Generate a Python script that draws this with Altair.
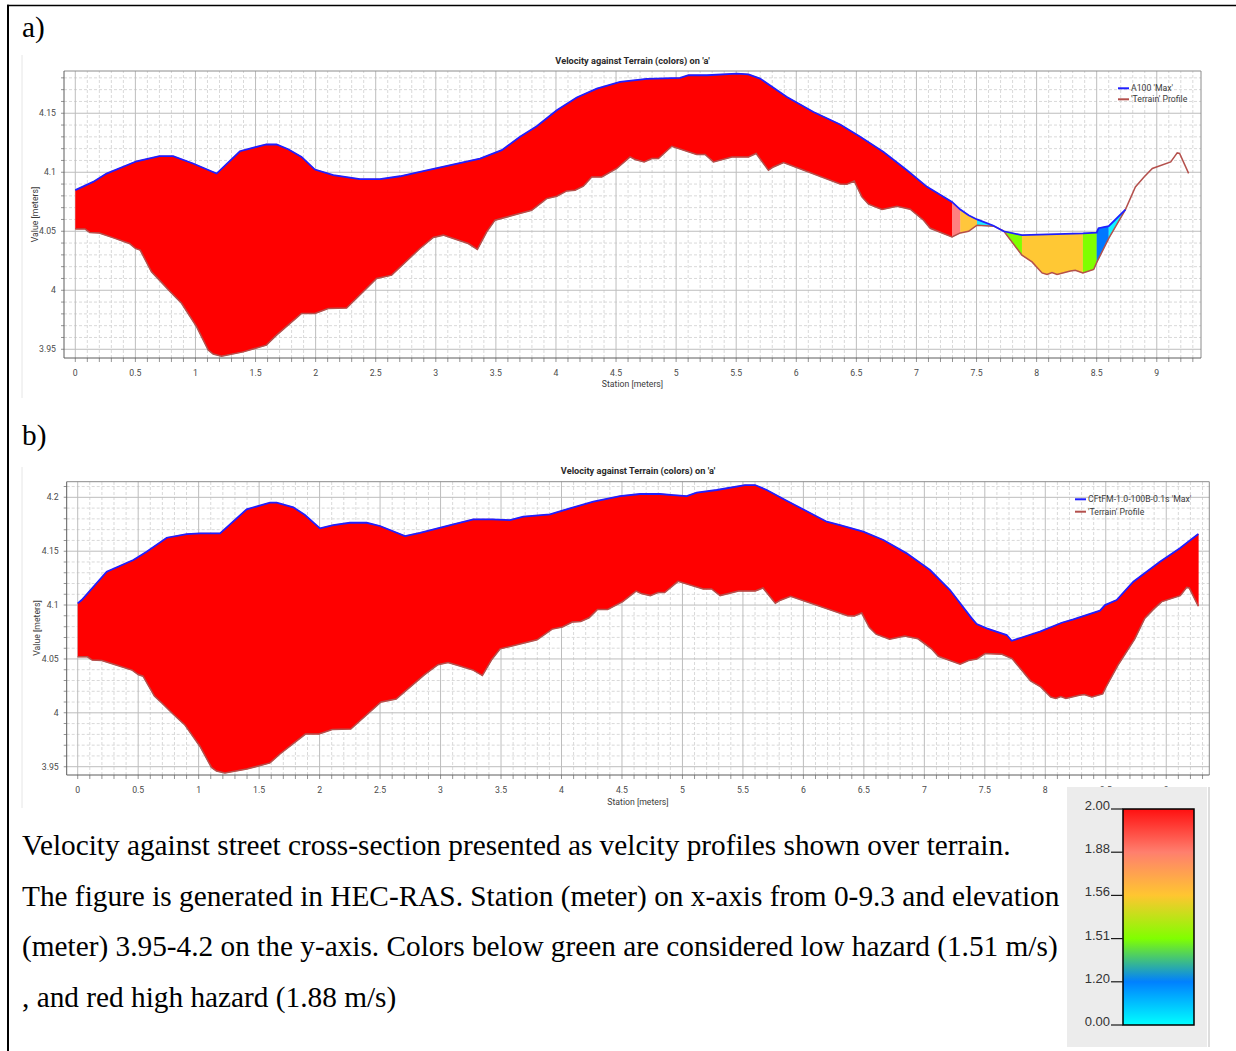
import altair as alt
import pandas as pd

# ---------------------------------------------------------------- data
# Street cross-section terrain (station [m], elevation [m]); same ground for both runs
TERRAIN_STA = [0.00, 0.08, 0.12, 0.20, 0.33, 0.45, 0.50, 0.54, 0.634, 0.70,
               0.79, 0.884, 1.01, 1.106, 1.147, 1.217, 1.397, 1.59, 1.675, 1.883,
               1.994, 2.105, 2.258, 2.508, 2.633, 2.868, 2.979, 3.062, 3.146, 3.27,
               3.346, 3.424, 3.493, 3.674, 3.798, 3.923, 4.007, 4.09, 4.159, 4.228,
               4.298, 4.381, 4.506, 4.617, 4.659, 4.734, 4.798, 4.853, 4.964, 5.172,
               5.241, 5.311, 5.464, 5.602, 5.666, 5.768, 5.81, 5.894, 6.365, 6.421,
               6.482, 6.546, 6.601, 6.713, 6.838, 6.948, 7.059, 7.115, 7.296, 7.365,
               7.434, 7.504, 7.642, 7.725, 7.878, 7.962, 8.045, 8.087, 8.128, 8.17,
               8.281, 8.322, 8.385, 8.475, 8.50, 8.60, 8.739, 8.822, 8.894, 8.963,
               9.116, 9.17, 9.19, 9.265]
TERRAIN_ELEV = [4.052, 4.052, 4.049, 4.0485, 4.044, 4.0396, 4.0355, 4.034, 4.0156, 4.0086,
                3.9987, 3.989, 3.969, 3.9493, 3.946, 3.9442, 3.9478, 3.9535, 3.962, 3.9803,
                3.9803, 3.9846, 3.985, 4.010, 4.0128, 4.0354, 4.0447, 4.0467, 4.0439, 4.0396,
                4.0346, 4.0495, 4.0594, 4.0644, 4.0678, 4.0777, 4.0797, 4.0842, 4.0848, 4.0882,
                4.096, 4.096, 4.1032, 4.113, 4.1108, 4.1088, 4.1116, 4.1116, 4.122, 4.115,
                4.115, 4.1088, 4.113, 4.113, 4.1159, 4.1017, 4.1045, 4.1082, 4.0901, 4.0898,
                4.0926, 4.0791, 4.073, 4.0684, 4.0712, 4.0687, 4.0594, 4.0525, 4.0452, 4.0486,
                4.050, 4.0551, 4.0543, 4.0503, 4.0297, 4.024, 4.0147, 4.0134, 4.0151, 4.0134,
                4.0164, 4.017, 4.0147, 4.0176, 4.0235, 4.044, 4.0684, 4.0876, 4.096, 4.1032,
                4.1088, 4.1164, 4.1159, 4.099]

# Maximum water surface, run A100
WSE_A_STA = [0.0, 0.148, 0.26, 0.51, 0.70, 0.814, 0.98, 1.176, 1.37, 1.59,
             1.675, 1.772, 1.883, 1.994, 2.147, 2.369, 2.535, 2.702, 2.868, 3.368,
             3.549, 3.701, 3.84, 4.007, 4.173, 4.34, 4.534, 4.756, 5.033, 5.103,
             5.256, 5.506, 5.602, 5.699, 5.922, 6.143, 6.365, 6.532, 6.726, 6.921,
             7.088, 7.296, 7.365, 7.434, 7.504, 7.642, 7.725, 7.878, 8.385, 8.50,
             8.515, 8.60, 8.739]
WSE_A_ELEV = [4.0848, 4.0918, 4.0989, 4.1093, 4.1136, 4.1136, 4.1074, 4.0989, 4.1178, 4.1237,
              4.1235, 4.1195, 4.113, 4.1023, 4.0975, 4.0941, 4.0941, 4.0966, 4.1003, 4.1116,
              4.1187, 4.130, 4.139, 4.1525, 4.1633, 4.1709, 4.1765, 4.1791, 4.1799, 4.1822,
              4.1822, 4.1836, 4.183, 4.1794, 4.1638, 4.1511, 4.1405, 4.130, 4.1172, 4.1017,
              4.0876, 4.0749, 4.0684, 4.0636, 4.060, 4.0547, 4.0500, 4.0467, 4.0482, 4.0488,
              4.0526, 4.0543, 4.0684]

# Velocity colour bands of run A100 (station from / to, colour)
BAND_A_START = [0.0, 7.296, 7.365, 7.504, 7.725, 7.878, 8.385, 8.50, 8.60]
BAND_A_END = [7.296, 7.365, 7.504, 7.642, 7.878, 8.385, 8.50, 8.60, 8.739]
BAND_A_COLOR = ["#ff0000", "#ff8080", "#ffc63c", "#20e8ff", "#80ff00",
                "#ffc834", "#80ff00", "#0078ff", "#10f4ff"]

# Maximum water surface, run CFtFM-1.0-100B-0.1s
WSE_B_STA = [0.0, 0.033, 0.24, 0.46, 0.57, 0.736, 0.901, 1.011, 1.177, 1.397,
             1.59, 1.645, 1.783, 1.879, 2.003, 2.113, 2.251, 2.389, 2.499, 2.706,
             2.83, 3.105, 3.271, 3.423, 3.574, 3.684, 3.905, 4.07, 4.263, 4.484,
             4.649, 4.814, 4.924, 5.035, 5.118, 5.283, 5.517, 5.6, 5.697, 5.862,
             6.193, 6.303, 6.495, 6.661, 6.854, 7.047, 7.212, 7.392, 7.433, 7.515,
             7.681, 7.722, 7.956, 8.136, 8.232, 8.452, 8.494, 8.59, 8.728, 8.948,
             9.113, 9.265]
WSE_B_ELEV = [4.1016, 4.1047, 4.131, 4.1418, 4.1495, 4.1625, 4.1659, 4.1666, 4.1666, 4.1889,
              4.195, 4.195, 4.1907, 4.1836, 4.1712, 4.1743, 4.1764, 4.1764, 4.1734, 4.1641,
              4.1671, 4.1749, 4.1796, 4.1796, 4.1789, 4.182, 4.1842, 4.1898, 4.1959, 4.2012,
              4.2031, 4.2031, 4.2021, 4.2012, 4.2043, 4.2068, 4.2114, 4.2114, 4.2068, 4.1968,
              4.1774, 4.1743, 4.1681, 4.1604, 4.148, 4.1325, 4.114, 4.0877, 4.0824, 4.0784,
              4.0722, 4.0669, 4.0753, 4.0836, 4.0868, 4.0948, 4.1, 4.1047, 4.1217, 4.1402,
              4.1527, 4.166]

BAND_B_START = [0.0]
BAND_B_END = [9.265]
BAND_B_COLOR = ["#ff0000"]

# Axis ticks
X_TICKS = [0, 0.5, 1, 1.5, 2, 2.5, 3, 3.5, 4, 4.5, 5, 5.5, 6, 6.5, 7, 7.5, 8, 8.5, 9]
X_TICK_LABELS = ["0", "0.5", "1", "1.5", "2", "2.5", "3", "3.5", "4", "4.5",
                 "5", "5.5", "6", "6.5", "7", "7.5", "8", "8.5", "9"]
Y_TICKS_A = [3.95, 4.0, 4.05, 4.1, 4.15]
Y_TICK_LABELS_A = ["3.95", "4", "4.05", "4.1", "4.15"]
Y_TICKS_B = [3.95, 4.0, 4.05, 4.1, 4.15, 4.2]
Y_TICK_LABELS_B = ["3.95", "4", "4.05", "4.1", "4.15", "4.2"]

TITLE = "Velocity against Terrain (colors) on 'a'"
LEGEND_A = ["A100 'Max'", "'Terrain' Profile"]
LEGEND_B = ["CFtFM-1.0-100B-0.1s 'Max'", "'Terrain' Profile"]

# Velocity colour legend (m/s)
CB_LABELS = ["2.00", "1.88", "1.56", "1.51", "1.20", "0.00"]
CB_COLORS = ["#ff1010", "#ff7f6e", "#ffc630", "#80ff00", "#0080ff", "#00ffff"]

CAPTION = [
    "Velocity against street cross-section presented as velcity profiles shown over terrain.",
    "The figure is generated in HEC-RAS. Station (meter) on x-axis from 0-9.3 and elevation",
    "(meter) 3.95-4.2 on the y-axis. Colors below green are considered low hazard (1.51 m/s)",
    ", and red high hazard (1.88 m/s)",
]

# ---------------------------------------------------------------- style
UI_FONT = "Roboto"
UI_SIZE = 8.7
SERIF = "Liberation Serif"
GRID_MAJOR = "#bdbdbd"
GRID_MINOR = "#d9d9d9"
WATER = "#1f1fff"
GROUND = "#b4504c"
ONE = pd.DataFrame({"k": [0]})


def band_polygons(wse_sta, wse_elev, starts, ends, colors):
    """Closed outline per colour band: water surface forward, terrain back."""
    rows = []
    eps = 1e-6
    for k, (s0, s1, col) in enumerate(zip(starts, ends, colors)):
        top = [(s, e) for s, e in zip(wse_sta, wse_elev) if s0 - eps <= s <= s1 + eps]
        bot = [(s, e) for s, e in zip(TERRAIN_STA, TERRAIN_ELEV) if s0 - eps <= s <= s1 + eps]
        for i, (s, e) in enumerate(top + bot[::-1]):
            rows.append({"band": k, "station": s, "elev": e, "seq": i, "colour": col})
    return pd.DataFrame(rows)


def build_panel(x_dom, x_rng, y_dom, y_rng, wse_sta, wse_elev, starts, ends, colors,
                y_ticks, y_labels):
    xs = alt.Scale(domain=x_dom, range=x_rng, nice=False, zero=False)
    ys = alt.Scale(domain=y_dom, range=y_rng, nice=False, zero=False)

    def X(f):
        return alt.X(f, type="quantitative", scale=xs, axis=None)

    def Y(f):
        return alt.Y(f, type="quantitative", scale=ys, axis=None)

    def XD(v):
        return alt.XDatum(v, scale=xs, axis=None)

    def YD(v):
        return alt.YDatum(v, scale=ys, axis=None)

    x_lo, x_hi = x_dom
    y_lo, y_hi = y_dom
    x_minor = [round(i * 0.1, 1) for i in range(1, int(x_hi * 10) + 1) if i % 5]
    y_minor = [round(3.95 + i * 0.01, 2) for i in range(0, int((y_hi - 3.95) * 100 + 1e-9) + 1) if i % 5]

    vminor = alt.Chart(pd.DataFrame({"v": x_minor})).mark_rule(
        color=GRID_MINOR, strokeWidth=1, strokeDash=[3, 2]
    ).encode(x=X("v"), y=YD(y_lo), y2=alt.Y2Datum(y_hi))
    hminor = alt.Chart(pd.DataFrame({"v": y_minor})).mark_rule(
        color=GRID_MINOR, strokeWidth=1, strokeDash=[3, 2]
    ).encode(y=Y("v"), x=XD(x_lo), x2=alt.X2Datum(x_hi))
    vmajor = alt.Chart(pd.DataFrame({"v": X_TICKS})).mark_rule(
        color=GRID_MAJOR, strokeWidth=1
    ).encode(x=X("v"), y=YD(y_lo), y2=alt.Y2Datum(y_hi))
    hmajor = alt.Chart(pd.DataFrame({"v": y_ticks})).mark_rule(
        color=GRID_MAJOR, strokeWidth=1
    ).encode(y=Y("v"), x=XD(x_lo), x2=alt.X2Datum(x_hi))

    fills = alt.Chart(band_polygons(wse_sta, wse_elev, starts, ends, colors)).mark_line(
        filled=True, strokeWidth=0.6, strokeJoin="round"
    ).encode(
        x=X("station"), y=Y("elev"),
        fill=alt.Fill("colour:N", scale=None),
        stroke=alt.Stroke("colour:N", scale=None),
        detail="band:N",
        order=alt.Order("seq:Q"),
    )
    terrain = alt.Chart(pd.DataFrame({"station": TERRAIN_STA, "elev": TERRAIN_ELEV})).mark_line(
        color=GROUND, strokeWidth=1.5
    ).encode(x=X("station"), y=Y("elev"))
    water = alt.Chart(pd.DataFrame({"station": wse_sta, "elev": wse_elev})).mark_line(
        color=WATER, strokeWidth=1.8
    ).encode(x=X("station"), y=Y("elev"))

    soft = alt.Chart(ONE).mark_rule(color="#8c8c8c", strokeWidth=1)
    hard = alt.Chart(ONE).mark_rule(color="#5c5c5c", strokeWidth=1)
    top = soft.encode(x=XD(x_lo), x2=alt.X2Datum(x_hi), y=YD(y_hi))
    right = soft.encode(x=XD(x_hi), y=YD(y_lo), y2=alt.Y2Datum(y_hi))
    bottom = hard.encode(x=XD(x_lo), x2=alt.X2Datum(x_hi), y=YD(y_lo))
    left = hard.encode(x=XD(x_lo), y=YD(y_lo), y2=alt.Y2Datum(y_hi))

    xt = alt.Chart(pd.DataFrame({"v": sorted(X_TICKS + x_minor)})).mark_tick(
        orient="vertical", size=4, thickness=1, yOffset=2, color="#666666"
    ).encode(x=X("v"), y=YD(y_lo))
    yt = alt.Chart(pd.DataFrame({"v": sorted(y_ticks + y_minor)})).mark_tick(
        orient="horizontal", size=3, thickness=1, xOffset=-1.5, color="#666666"
    ).encode(y=Y("v"), x=XD(x_lo))

    xl = alt.Chart(pd.DataFrame({"v": X_TICKS, "lab": X_TICK_LABELS})).mark_text(
        font=UI_FONT, fontSize=UI_SIZE, color="#4a4a4a", dy=15, baseline="middle"
    ).encode(x=X("v"), y=YD(y_lo), text="lab:N")
    yl = alt.Chart(pd.DataFrame({"v": y_ticks, "lab": y_labels})).mark_text(
        font=UI_FONT, fontSize=UI_SIZE, color="#4a4a4a", dx=-8, align="right", baseline="middle"
    ).encode(y=Y("v"), x=XD(x_lo), text="lab:N")

    return alt.layer(vminor, hminor, vmajor, hmajor, fills, terrain, water,
                     top, right, bottom, left, xt, yt, xl, yl)


def text_at(txt, x, y, **kw):
    return alt.Chart(ONE).mark_text(text=txt, **kw).encode(x=alt.value(x), y=alt.value(y))


def hline(x0, x1, y, color, width):
    return alt.Chart(ONE).mark_rule(color=color, strokeWidth=width).encode(
        x=alt.value(x0), x2=alt.value(x1), y=alt.value(y))


def vline(x, y0, y1, color, width):
    return alt.Chart(ONE).mark_rule(color=color, strokeWidth=width).encode(
        x=alt.value(x), y=alt.value(y0), y2=alt.value(y1))


# ---------------------------------------------------------------- panels
panel_a = build_panel([-0.094, 9.368], [64, 1201], [3.9426, 4.1858], [358, 71],
                      WSE_A_STA, WSE_A_ELEV, BAND_A_START, BAND_A_END, BAND_A_COLOR,
                      Y_TICKS_A, Y_TICK_LABELS_A)
panel_b = build_panel([-0.091, 9.356], [66.7, 1209.3], [3.9423, 4.2145], [775, 481.7],
                      WSE_B_STA, WSE_B_ELEV, BAND_B_START, BAND_B_END, BAND_B_COLOR,
                      Y_TICKS_B, Y_TICK_LABELS_B)

small = dict(font=UI_FONT, fontSize=UI_SIZE, color="#3c3c3c")
head = dict(font=UI_FONT, fontSize=9.2, fontWeight="bold", color="#2a2a2a",
            align="center", baseline="middle")
deco_a = [
    vline(22, 55, 398, "#e6e6e6", 1),
    text_at("a)", 22, 37, font=SERIF, fontSize=29.3, align="left", baseline="alphabetic", color="black"),
    text_at(TITLE, 632.5, 61, **head),
    text_at("Station [meters]", 632.5, 384, align="center", baseline="middle", **small),
    text_at("Value [meters]", 35, 214.5, angle=270, align="center", baseline="middle", **small),
    hline(1118, 1129, 88.3, WATER, 2),
    hline(1118, 1129, 99.3, GROUND, 2),
    text_at(LEGEND_A[0], 1131, 88.3, align="left", baseline="middle", **small),
    text_at(LEGEND_A[1], 1131, 99.3, align="left", baseline="middle", **small),
]
deco_b = [
    vline(22, 467, 808, "#e6e6e6", 1),
    text_at("b)", 22, 445, font=SERIF, fontSize=29.3, align="left", baseline="alphabetic", color="black"),
    text_at(TITLE, 638, 471, **head),
    text_at("Station [meters]", 638, 802, align="center", baseline="middle", **small),
    text_at("Value [meters]", 36.5, 628, angle=270, align="center", baseline="middle", **small),
    hline(1075, 1086, 499.3, WATER, 2),
    hline(1075, 1086, 511.7, GROUND, 2),
    text_at(LEGEND_B[0], 1088, 499.3, align="left", baseline="middle", **small),
    text_at(LEGEND_B[1], 1088, 511.7, align="left", baseline="middle", **small),
]

# ---------------------------------------------------------------- colour legend
cb_bg = alt.Chart(ONE).mark_rect(fill="#ececec").encode(
    x=alt.value(1067), x2=alt.value(1207), y=alt.value(787), y2=alt.value(1047))
cb_edge = vline(1209, 787, 1047, "#d2d2d2", 1.5)
gradient = alt.LinearGradient(
    gradient="linear", x1=0, x2=0, y1=0, y2=1,
    stops=[alt.GradientStop(color=c, offset=i / (len(CB_COLORS) - 1)) for i, c in enumerate(CB_COLORS)],
)
cb_bar = alt.Chart(ONE).mark_rect(fill=gradient, stroke="black", strokeWidth=1.5).encode(
    x=alt.value(1123), x2=alt.value(1194), y=alt.value(809), y2=alt.value(1025))
cb_scale = alt.Scale(type="point", domain=CB_LABELS, range=[809, 1025], padding=0)
cb_df = pd.DataFrame({"lab": CB_LABELS})
cb_ticks = alt.Chart(cb_df).mark_rule(color="#1a1a1a", strokeWidth=1.2).encode(
    y=alt.Y("lab:N", scale=cb_scale, axis=None), x=alt.value(1111), x2=alt.value(1123))
cb_text = alt.Chart(cb_df).mark_text(
    font="Liberation Sans", fontSize=13, color="#333333", align="right", baseline="alphabetic", dy=1
).encode(y=alt.Y("lab:N", scale=cb_scale, axis=None), x=alt.value(1110), text="lab:N")
colour_legend = alt.layer(cb_ticks, cb_text)

# ---------------------------------------------------------------- caption and page edges
caption = [
    text_at(line, 22, 855 + 50.7 * i, font=SERIF, fontSize=29.3, align="left",
            baseline="alphabetic", color="black")
    for i, line in enumerate(CAPTION)
]
page_left = vline(8, 4.8, 1051, "black", 2)
page_top = hline(7, 1236, 5.5, "black", 1.5)

chart = alt.layer(
    panel_a, panel_b, *deco_a, *deco_b, cb_bg, cb_edge, cb_bar, colour_legend, *caption,
    page_left, page_top
).resolve_scale(
    x="independent", y="independent"
).properties(
    width=1236, height=1051, padding=0, background="white",
    autosize=alt.AutoSizeParams(type="none"),
).configure_view(stroke=None)

chart.save("out.html", embed_options={"renderer": "svg", "actions": False})
